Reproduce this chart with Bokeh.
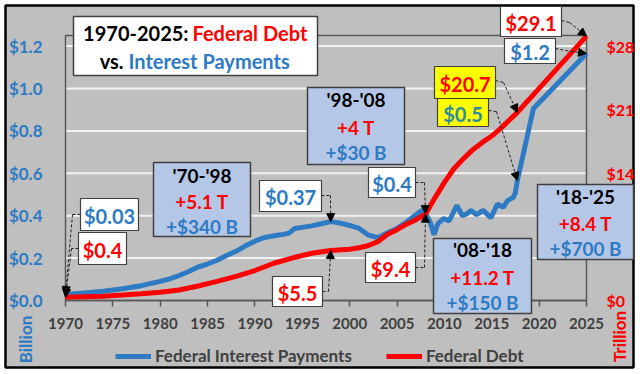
import math
from bokeh.plotting import figure
from bokeh.models import (Range1d, LinearAxis, Label, BoxAnnotation, Arrow, NormalHead,
                          Legend, LegendItem, FixedTicker, NumeralTickFormatter)
from bokeh.embed import file_html
from bokeh.resources import INLINE

# ---------------- data ----------------
interest_years = [1970, 1972, 1974, 1976, 1978, 1980, 1981, 1982, 1983, 1984, 1985, 1986, 1987,
                  1988, 1989, 1990, 1991, 1992, 1993, 1993.6, 1994.2, 1995, 1996, 1997, 1998,
                  1999, 2000, 2001, 2002, 2003, 2004, 2005, 2006, 2007, 2007.6, 2008, 2008.5,
                  2008.9, 2009.3, 2009.9, 2010.5, 2011.3, 2011.9, 2012.4, 2012.8, 2013.4, 2014.1,
                  2014.9, 2015.6, 2016.2, 2016.7, 2017.3, 2017.5, 2017.7, 2019.4, 2025]
interest_payments = [0.028, 0.036, 0.044, 0.055, 0.07, 0.09, 0.102, 0.118, 0.137, 0.158, 0.172,
                     0.19, 0.212, 0.232, 0.258, 0.28, 0.297, 0.305, 0.312, 0.318, 0.34, 0.345,
                     0.352, 0.362, 0.372, 0.365, 0.354, 0.34, 0.308, 0.296, 0.32, 0.34, 0.37,
                     0.405, 0.425, 0.41, 0.37, 0.31, 0.362, 0.387, 0.375, 0.448, 0.40, 0.41,
                     0.425, 0.405, 0.425, 0.39, 0.455, 0.44, 0.472, 0.487, 0.51, 0.566, 0.906,
                     1.165]
debt_years = [1970, 1972, 1974, 1976, 1978, 1980, 1982, 1984, 1986, 1988, 1990, 1992, 1994, 1996,
              1998, 2000, 2001, 2002, 2003, 2004, 2005, 2006, 2007, 2008, 2009, 2010, 2011, 2012,
              2013, 2014, 2015, 2016, 2017, 2017.7, 2025]
federal_debt = [0.37, 0.42, 0.47, 0.6, 0.75, 0.91, 1.15, 1.6, 2.1, 2.65, 3.3, 4.1, 4.7, 5.2,
                5.5, 5.65, 5.8, 6.05, 6.5, 7.3, 7.8, 8.4, 8.9, 9.5, 11.3, 13.0, 14.5, 15.6,
                16.6, 17.4, 18.1, 19.0, 20.0, 20.7, 29.1]
x_ticks = [1970, 1975, 1980, 1985, 1990, 1995, 2000, 2005, 2010, 2015, 2020, 2025]
left_ticks = [0.0, 0.2, 0.4, 0.6, 0.8, 1.0, 1.2]
right_ticks = [0, 14, 21, 28]

# ---------------- style ----------------
GRAY = "#BFBFBF"
BLUE = "#2E7BC4"
RED = "#FF0000"
DARK = "#404040"
FONT = "Lato"
LEFT_MAX = 1.25
RATIO = 28 / 1.2          # trillion per left-axis unit

# where the chart area sits on the 640x374 canvas (pixels)
FL, FR, FT, FB = 65, 586, 35, 300
X0, X1 = x_ticks[0], x_ticks[-1]


def X(px):
    return X0 + (px - FL) * (X1 - X0) / (FR - FL)


def Y(py):
    return (FB - py) * LEFT_MAX / (FB - FT)


p = figure(width=640, height=374, x_range=Range1d(X(0), X(640)), y_range=Range1d(Y(374), Y(0)),
           output_backend="svg", toolbar_location=None,
           min_border=0, background_fill_color="white", border_fill_color="white",
           outline_line_color=None)
p.extra_y_ranges = {"debt": Range1d(Y(374) * RATIO, Y(0) * RATIO)}

# outer grey panel with black border, then the chart area outline
p.add_layout(BoxAnnotation(left=X(5), right=X(633), top=Y(5), bottom=Y(367),
                           fill_color=GRAY, fill_alpha=1, line_color="black",
                           line_alpha=1, line_width=2.5, level="image"))
p.add_layout(BoxAnnotation(left=X0, right=X1, top=LEFT_MAX, bottom=0,
                           fill_alpha=0, line_color="#595959",
                           line_alpha=1, line_width=1.5, level="underlay"))

# gridlines
p.xgrid.grid_line_color = None
p.ygrid.grid_line_color = None
p.segment(x0=X0, x1=X1, y0=left_ticks[1:], y1=left_ticks[1:], line_color="#F2F2F2",
          line_width=2, level="underlay")

# axes (fixed at the chart-area edges)
xa = p.xaxis[0]
xa.fixed_location = 0
xa.bounds = (X0, X1)
xa.ticker = FixedTicker(ticks=x_ticks)
xa.axis_line_color = "#595959"
xa.axis_line_width = 1.5
xa.major_tick_line_color = "#595959"
xa.major_tick_line_width = 1.5
xa.major_tick_out = 6
xa.major_tick_in = 0
xa.minor_tick_line_color = None
xa.major_label_standoff = 11
xa.major_label_text_font = FONT
xa.major_label_text_font_style = "bold"
xa.major_label_text_font_size = "15px"
xa.major_label_text_color = DARK

ya = p.yaxis[0]
ya.fixed_location = X0
ya.bounds = (0, 1.2)
ya.ticker = FixedTicker(ticks=left_ticks)
ya.formatter = NumeralTickFormatter(format="$0.0")
ya.axis_line_color = None
ya.major_tick_line_color = None
ya.minor_tick_line_color = None
ya.major_label_standoff = 17
ya.major_label_text_font = FONT
ya.major_label_text_font_style = "bold"
ya.major_label_text_font_size = "17px"
ya.major_label_text_color = BLUE

ra = LinearAxis(y_range_name="debt", fixed_location=X1, bounds=(0, 28),
                ticker=FixedTicker(ticks=right_ticks),
                formatter=NumeralTickFormatter(format="$0"))
ra.axis_line_color = None
ra.major_tick_line_color = None
ra.minor_tick_line_color = None
ra.major_label_standoff = 14
ra.major_label_text_font = FONT
ra.major_label_text_font_style = "bold"
ra.major_label_text_font_size = "16px"
ra.major_label_text_color = RED
p.add_layout(ra, "right")

# data lines
bl = p.line(interest_years, interest_payments, line_color=BLUE, line_width=5)
rl = p.line(debt_years, federal_debt, line_color=RED, line_width=5, y_range_name="debt")

legend = Legend(items=[LegendItem(label="Federal Interest Payments", renderers=[bl]),
                       LegendItem(label="Federal Debt", renderers=[rl])],
                orientation="horizontal", location=(115, 8),
                label_text_font=FONT, label_text_font_style="bold",
                label_text_font_size="17px", label_text_color=DARK,
                glyph_width=36, glyph_height=18, label_standoff=4, spacing=34,
                padding=0, margin=0, border_line_color=None, background_fill_alpha=0)
p.add_layout(legend)


def box(l, t, r, b, fill, lw=1.5):
    p.add_layout(BoxAnnotation(left=X(l), right=X(r), top=Y(t), bottom=Y(b),
                               fill_color=fill, fill_alpha=1, line_color=DARK,
                               line_alpha=1, line_width=lw))


def text(px, py, s, color, size, align="center", angle=0.0):
    p.add_layout(Label(x=X(px), y=Y(py), text=s, text_color=color, text_font=FONT,
                       text_font_style="bold", text_font_size=f"{size}px",
                       text_align=align, text_baseline="middle", angle=angle))


def connector(points, end_xy):
    pts = [(X(a), Y(b)) for a, b in points] + [end_xy]
    for i in range(len(pts) - 1):
        last = i == len(pts) - 2
        head = NormalHead(size=8, fill_color="black", line_color="black") if last else None
        p.add_layout(Arrow(x_start=pts[i][0], y_start=pts[i][1], x_end=pts[i + 1][0],
                           y_end=pts[i + 1][1], start=None, end=head,
                           line_color="#222222", line_width=1, line_dash="3 2"))


# connectors (drawn first so boxes sit on top)
connector([(80, 214), (72, 214)], (1970, interest_payments[0]))
connector([(78, 248), (71, 248)], (1970, federal_debt[0] / RATIO))
connector([(321, 195), (330, 195)], (1998, 0.372))
connector([(322, 291), (328, 291)], (1998, 5.5 / RATIO))
connector([(415, 182), (424, 182)], (2008, 0.41))
connector([(415, 267), (424, 267)], (2008, 9.5 / RATIO))
connector([(495, 80), (503, 82)], (2017.7, 20.7 / RATIO))
connector([(488, 110), (496, 111)], (2017.7, 0.566))
connector([(561, 20), (569, 22)], (2025, 29.1 / RATIO))
connector([(555, 48), (565, 50)], (2025, 1.165))

# title box
box(73, 16, 317, 75, "white")
text(188, 32, "1970-2025:", "black", 20, "right")
text(192, 32, "Federal Debt", RED, 20, "left")
text(123, 60, "vs.", "black", 20, "right")
text(128, 60, "Interest Payments", BLUE, 20, "left")

# value call-outs
callouts = [
    ((80, 198, 138, 230), "$0.03", BLUE, "white"),
    ((78, 232, 126, 264), "$0.4", RED, "white"),
    ((259, 180, 321, 211), "$0.37", BLUE, "white"),
    ((272, 276, 322, 306), "$5.5", RED, "white"),
    ((368, 167, 415, 197), "$0.4", BLUE, "white"),
    ((365, 252, 415, 282), "$9.4", RED, "white"),
    ((434, 66, 495, 98), "$20.7", RED, "#FFFF00"),
    ((437, 98, 488, 126), "$0.5", "#2A8C9E", "#FFFF00"),
    ((500, 6, 561, 36), "$29.1", RED, "white"),
    ((504, 38, 555, 63), "$1.2", BLUE, "white"),
]
for (l, t, r, b), s, c, f in callouts:
    box(l, t, r, b, f, lw=1.2)
    text((l + r) / 2, (t + b) / 2 + 1, s, c, 20)

# period boxes
periods = [
    ((153, 162, 250, 236), (175, 201, 226), ("'70-'98", "+5.1 T", "+$340 B")),
    ((307, 87, 404, 164), (99, 127, 152), ("'98-'08", "+4 T", "+$30 B")),
    ((433, 238, 531, 313), (249, 277, 302), ("'08-'18", "+11.2 T", "+$150 B")),
    ((537, 184, 633, 259), (196, 223, 248), ("'18-'25", "+8.4 T", "+$700 B")),
]
for (l, t, r, b), ys, lines in periods:
    box(l, t, r, b, "#B4C7E7")
    for yy, s, c in zip(ys, lines, ("black", RED, BLUE)):
        text((l + r) / 2, yy, s, c, 19)

# axis unit labels
text(25, 339, "Billion", BLUE, 17, "center", math.pi / 2)
text(619, 336, "Trillion", RED, 17, "center", math.pi / 2)

open("out.html", "w").write(file_html(p, INLINE))
